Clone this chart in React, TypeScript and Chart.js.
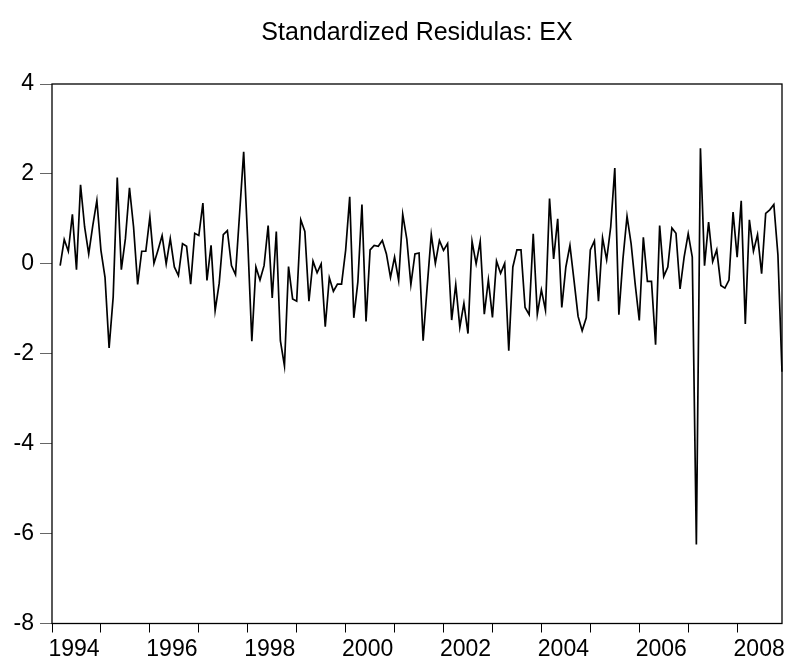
import React, { useEffect, useRef } from 'react';
import { Chart, registerables } from 'chart.js';

Chart.register(...registerables);

const titleText = 'Standardized Residulas: EX';

const years = [1994, 1995, 1996, 1997, 1998, 1999, 2000, 2001, 2002, 2003, 2004, 2005, 2006, 2007, 2008];
const monthCodes = ['01', '02', '03', '04', '05', '06', '07', '08', '09', '10', '11', '12'];
const categories: string[] = years.flatMap((y) => monthCodes.map((m) => `${y}M${m}`));

const yearTickLabels = ['1994', '1996', '1998', '2000', '2002', '2004', '2006', '2008'];
const yMin = -8;
const yMax = 4;
const yStep = 2;

// Standardized residuals, monthly 1994M01 - 2008M12 (first two observations missing)
const residuals: (number | null)[] = [
  null, null, -0.04, 0.54, 0.28, 1.10, -0.13, 1.76, 0.82, 0.22, 0.85, 1.41,
  0.30, -0.30, -1.87, -0.74, 1.92, -0.13, 0.56, 1.69, 0.82, -0.46, 0.28, 0.28,
  1.04, 0.01, 0.31, 0.63, 0.00, 0.56, -0.07, -0.26, 0.45, 0.39, -0.45, 0.68,
  0.63, 1.35, -0.37, 0.41, -1.04, -0.43, 0.65, 0.74, -0.04, -0.24, 1.12, 2.49,
  0.50, -1.72, -0.07, -0.36, -0.04, 0.85, -0.76, 0.72, -1.71, -2.27, -0.06, -0.78,
  -0.83, 0.98, 0.72, -0.83, 0.06, -0.20, 0.00, -1.40, -0.31, -0.61, -0.45, -0.45,
  0.30, 1.49, -1.20, -0.40, 1.32, -1.28, 0.31, 0.41, 0.39, 0.52, 0.22, -0.30,
  0.15, -0.37, 1.10, 0.55, -0.46, 0.22, 0.24, -1.71, -0.50, 0.65, 0.01, 0.52,
  0.30, 0.45, -1.25, -0.46, -1.41, -0.88, -1.55, 0.50, 0.00, 0.50, -1.12, -0.36,
  -1.19, 0.06, -0.21, 0.01, -1.93, -0.07, 0.31, 0.31, -0.97, -1.13, 0.67, -1.12,
  -0.58, -1.03, 1.45, 0.11, 1.00, -0.97, -0.07, 0.41, -0.37, -1.17, -1.49, -1.20,
  0.31, 0.51, -0.83, 0.58, 0.09, 0.82, 2.13, -1.13, 0.11, 1.06, 0.45, -0.45,
  -1.26, 0.59, -0.39, -0.39, -1.80, 0.85, -0.28, -0.07, 0.80, 0.68, -0.56, 0.15,
  0.67, 0.15, -6.24, 2.57, -0.04, 0.93, 0.05, 0.31, -0.48, -0.54, -0.36, 1.15,
  0.15, 1.40, -1.34, 0.98, 0.28, 0.65, -0.22, 1.12, 1.20, 1.32, 0.20, -2.40,
];

const FONT = "'Liberation Sans', Arial, sans-serif";

const framePlugin = {
  id: 'eviewsFrame',
  afterDraw(chart: any) {
    const { ctx, chartArea: a } = chart;
    ctx.save();
    ctx.strokeStyle = '#000';
    ctx.lineWidth = 1.3;
    ctx.strokeRect(a.left, a.top, a.right - a.left, a.bottom - a.top);
    ctx.fillStyle = '#000';
    ctx.font = `25px ${FONT}`;
    ctx.textAlign = 'center';
    ctx.textBaseline = 'middle';
    ctx.fillText(titleText, (a.left + a.right) / 2, 33);
    ctx.restore();
  },
};

export default function App() {
  const canvasRef = useRef<HTMLCanvasElement | null>(null);

  useEffect(() => {
    document.body.style.margin = '0';
    const canvas = canvasRef.current;
    if (!canvas) return;
    const chart = new Chart(canvas, {
      type: 'line',
      data: {
        labels: categories,
        datasets: [
          {
            data: residuals,
            borderColor: '#000',
            borderWidth: 1.7,
            pointRadius: 0,
            tension: 0,
            spanGaps: false,
            fill: false,
          },
        ],
      },
      options: {
        animation: false,
        responsive: false,
        devicePixelRatio: 1,
        layout: { padding: { top: 84, right: 10, left: 0, bottom: 0 } },
        plugins: {
          legend: { display: false },
          tooltip: { enabled: false },
          title: { display: false },
        },
        scales: {
          x: {
            type: 'category',
            offset: false,
            afterBuildTicks: (scale: any) => {
              scale.ticks = scale.ticks.filter((t: any) => t.value % 12 === 0);
            },
            afterFit: (scale: any) => {
              scale.height = 41.5;
            },
            grid: {
              display: true,
              drawOnChartArea: false,
              drawTicks: true,
              tickLength: 9,
              color: '#000',
              lineWidth: 1,
            },
            border: { display: false },
            ticks: {
              autoSkip: false,
              maxRotation: 0,
              minRotation: 0,
              labelOffset: 22,
              padding: 3,
              color: '#000',
              font: { family: FONT, size: 23 },
              callback: (value: any) => {
                const lab = categories[value as number];
                const yr = lab.slice(0, 4);
                return lab.endsWith('M01') && yearTickLabels.includes(yr) ? yr : '';
              },
            },
          },
          y: {
            type: 'linear',
            min: yMin,
            max: yMax,
            afterFit: (scale: any) => {
              scale.width = 52;
            },
            grid: {
              display: true,
              drawOnChartArea: false,
              drawTicks: true,
              tickLength: 12,
              color: '#666',
              lineWidth: 1,
            },
            border: { display: false },
            ticks: {
              stepSize: yStep,
              padding: 6,
              color: '#000',
              font: { family: FONT, size: 23 },
              callback: (v: any) => String(v),
            },
          },
        },
      },
      plugins: [framePlugin],
    });
    return () => chart.destroy();
  }, []);

  return (
    <div style={{ width: 792, height: 665 }}>
      <canvas ref={canvasRef} width={792} height={665} />
    </div>
  );
}
